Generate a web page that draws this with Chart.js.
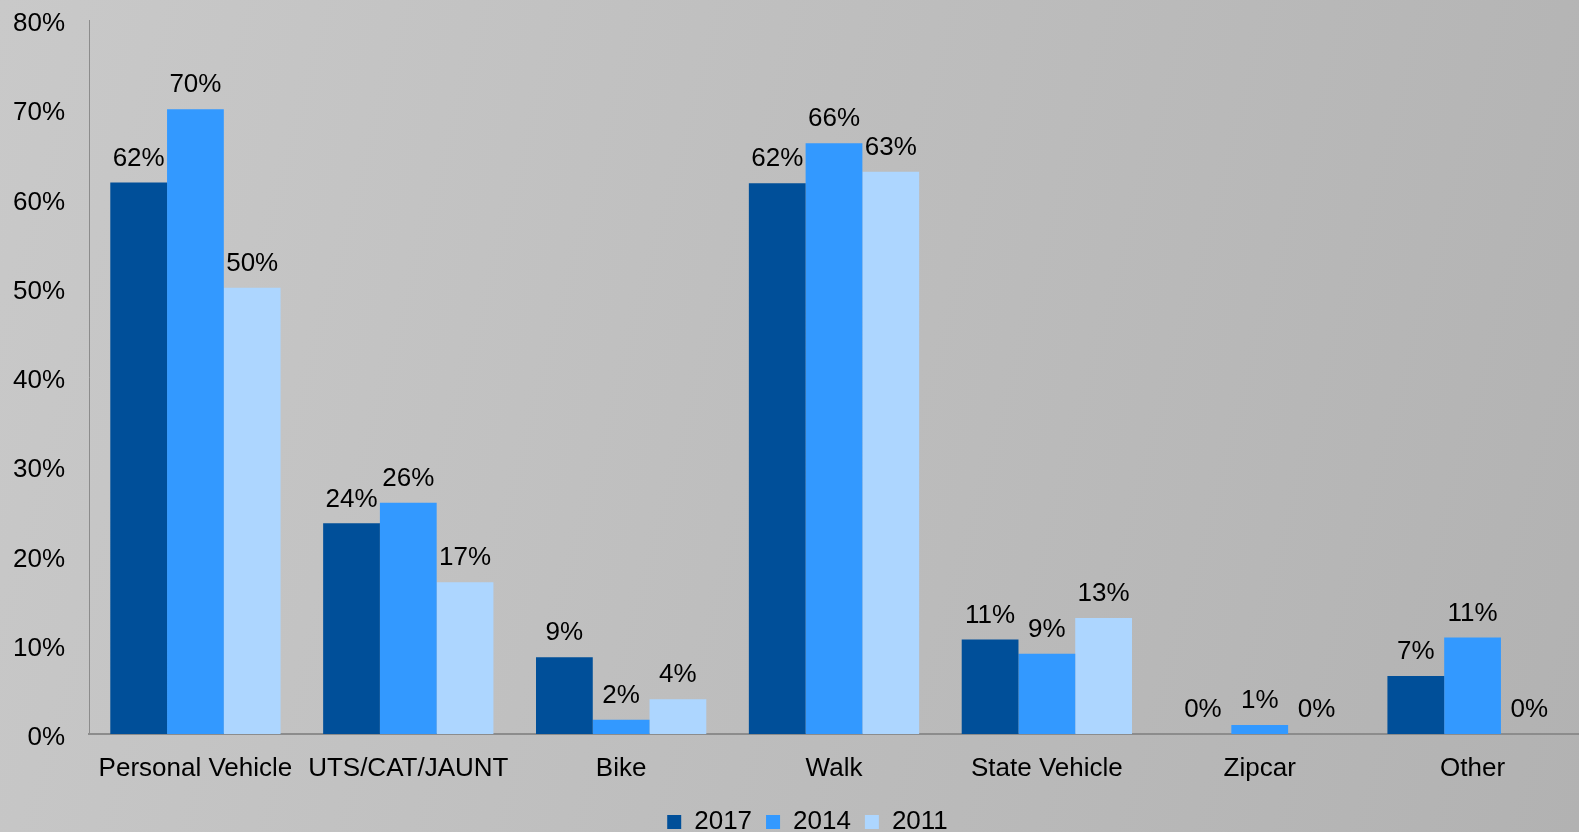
<!DOCTYPE html>
<html>
<head>
<meta charset="utf-8">
<script src="https://cdn.jsdelivr.net/npm/chart.js@4"></script>
<style>
  html, body { margin: 0; padding: 0; }
  body {
    width: 1579px; height: 832px; overflow: hidden;
    background: linear-gradient(105deg, #c9c9c9, #b2b2b2);
  }
  #wrap { position: relative; width: 1579px; height: 832px; }
</style>
</head>
<body>
<div id="wrap"><canvas id="modeChart"></canvas></div>
<script>
// Datos del gráfico
const categories = ['Personal Vehicle', 'UTS/CAT/JAUNT', 'Bike', 'Walk', 'State Vehicle', 'Zipcar', 'Other'];
const years = ['2017', '2014', '2011'];
const values2017 = [61.8, 23.6, 8.6, 61.7, 10.6, 0, 6.5];
const values2014 = [70.0, 25.9, 1.6, 66.2, 9.0, 1.0, 10.8];
const values2011 = [50.0, 17.0, 3.9, 63.0, 13.0, 0, 0];
const yTicks = [0, 10, 20, 30, 40, 50, 60, 70, 80];

const colors = ['#004f99', '#3399ff', '#add6ff'];
const FONT = "'Liberation Sans', Arial, sans-serif";

// Etiquetas de valor sobre cada barra
const valueLabels = {
  id: 'valueLabels',
  afterLayout(chart) {
    // la leyenda del original está algo desplazada a la derecha
    if (chart.legend) {
      chart.legend.left += 18;
      chart.legend.right += 18;
    }
  },
  afterDatasetsDraw(chart) {
    const ctx = chart.ctx;
    ctx.save();
    ctx.font = '26px ' + FONT;
    ctx.fillStyle = '#000';
    ctx.textAlign = 'center';
    ctx.textBaseline = 'bottom';
    chart.data.datasets.forEach((ds, i) => {
      const meta = chart.getDatasetMeta(i);
      meta.data.forEach((bar, j) => {
        ctx.fillText(Math.round(ds.data[j]) + '%', bar.x, bar.y - 11);
      });
    });
    ctx.restore();
  }
};

const ctx = document.getElementById('modeChart').getContext('2d');
const chart = new Chart(ctx, {
  type: 'bar',
  data: {
    labels: categories,
    datasets: [values2017, values2014, values2011].map((vals, i) => ({
      label: years[i],
      data: vals,
      backgroundColor: colors[i],
      borderWidth: 0,
      categoryPercentage: 0.8,
      barPercentage: 1.0
    }))
  },
  options: {
    responsive: true,
    maintainAspectRatio: false,
    animation: false,
    layout: {
      padding: { left: 0, right: 0, top: 20, bottom: -13 }
    },
    plugins: {
      legend: {
        position: 'bottom',
        labels: {
          boxWidth: 14,
          boxHeight: 14,
          padding: 14,
          color: '#000',
          font: { family: FONT, size: 26 }
        }
      },
      tooltip: { enabled: false }
    },
    scales: {
      y: {
        min: 0,
        max: 80,
        afterBuildTicks: axis => { axis.ticks = yTicks.map(v => ({ value: v })); },
        afterFit: axis => {
          axis.width = 89;
          axis.paddingTop = 0;
          axis.paddingBottom = 0;
        },
        grid: { display: false, drawTicks: false },
        border: { display: true, color: '#8c8c8c', width: 1 },
        ticks: {
          padding: 24,
          labelOffset: 4,
          color: '#000',
          font: { family: FONT, size: 26 },
          callback: v => v + '%'
        }
      },
      x: {
        afterFit: axis => { axis.height = 61; },
        grid: { display: false, drawTicks: false },
        border: { display: true, color: '#8c8c8c', width: 2 },
        ticks: {
          padding: 19,
          color: '#000',
          maxRotation: 0,
          autoSkip: false,
          font: { family: FONT, size: 26 }
        }
      }
    }
  },
  plugins: [valueLabels]
});
</script>
</body>
</html>
